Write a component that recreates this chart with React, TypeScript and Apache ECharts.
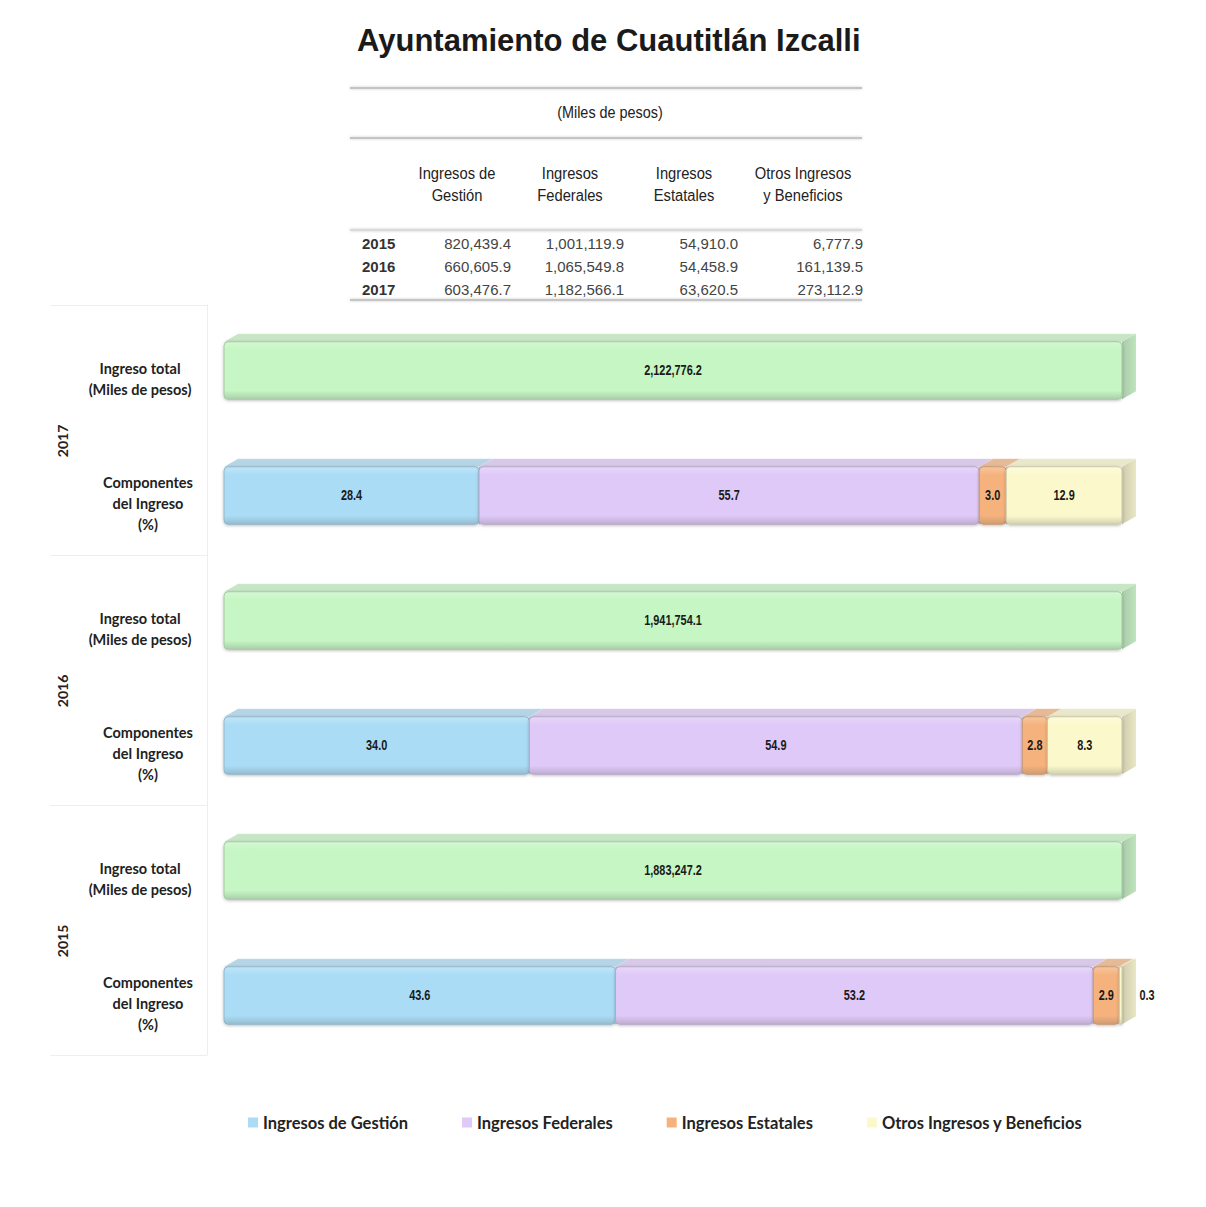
import React, { useEffect, useRef } from "react";
import * as echarts from "echarts";

// ---- Table data (Miles de pesos) ----
const tableYears = ["2015", "2016", "2017"];
const tabGestion = [820439.4, 660605.9, 603476.7];
const tabFederales = [1001119.9, 1065549.8, 1182566.1];
const tabEstatales = [54910.0, 54458.9, 63620.5];
const tabOtros = [6777.9, 161139.5, 273112.9];
const tableHeaders = [
  "Ingresos de\nGestión",
  "Ingresos\nFederales",
  "Ingresos\nEstatales",
  "Otros Ingresos\ny Beneficios",
];

// ---- Chart data ----
const chartYears = ["2017", "2016", "2015"];
const totals = [2122776.2, 1941754.1, 1883247.2];
const pctGestion = [28.4, 34.0, 43.6];
const pctFederales = [55.7, 54.9, 53.2];
const pctEstatales = [3.0, 2.8, 2.9];
const pctOtros = [12.9, 8.3, 0.3];
const componentNames = [
  "Ingresos de Gestión",
  "Ingresos Federales",
  "Ingresos Estatales",
  "Otros Ingresos y Beneficios",
];
const rowKeys = ["t2017", "c2017", "t2016", "c2016", "t2015", "c2015"];
const totalLabelLines = ["Ingreso total", "(Miles de pesos)"];
const compLabelLines = ["Componentes", "del Ingreso", "(%)"];

const colors = ["#aadcf6", "#dfc9f8", "#f5b27c", "#fbf9cc"];
const totalColor = "#c5f6c3";

function mix(hex: string, target: number, f: number) {
  const n = parseInt(hex.slice(1), 16);
  const r = (n >> 16) & 255, g = (n >> 8) & 255, b = n & 255;
  const m = (c: number) => Math.round(c + (target - c) * f);
  return `rgb(${m(r)},${m(g)},${m(b)})`;
}

const fmt = (v: number) =>
  v.toLocaleString("en-US", { minimumFractionDigits: 1, maximumFractionDigits: 1 });

function make3DRender(color: string) {
  return (params: any, api: any) => {
    const p0 = api.coord([api.value(0), api.value(2)]);
    const p1 = api.coord([api.value(1), api.value(2)]);
    const band = api.size([0, 1])[1];
    const h = band * 0.46;
    const dx = 14, dy = 8;
    const x0 = p0[0], x1 = p1[0];
    const yc = p0[1] + 3;
    const y0 = yc - h / 2, y1 = yc + h / 2;
    const w = Math.max(x1 - x0, 1);
    const val = api.value(3);
    const isTotal = api.value(4) === 1;
    const labelText = isTotal ? fmt(val) : val.toFixed(1);
    const small = !isTotal && val < 1;
    const children: any[] = [
      {
        type: "polygon",
        shape: { points: [[x0, y0], [x0 + dx, y0 - dy], [x1 + dx, y0 - dy], [x1, y0]] },
        style: { fill: mix(color, 200, 0.35), stroke: "rgba(255,255,255,0.4)", lineWidth: 0.5 },
      },
      {
        type: "polygon",
        shape: { points: [[x1, y0], [x1 + dx, y0 - dy], [x1 + dx, y1 - dy], [x1, y1]] },
        style: {
          fill: {
            type: "linear", x: 0, y: 0, x2: 1, y2: 0,
            colorStops: [
              { offset: 0, color: mix(color, 120, 0.35) },
              { offset: 1, color: mix(color, 160, 0.2) },
            ],
          },
        },
      },
      {
        type: "rect",
        shape: { x: x0, y: y0, width: w, height: h, r: 4 },
        style: {
          fill: {
            type: "linear", x: 0, y: 0, x2: 0, y2: 1,
            colorStops: [
              { offset: 0, color: mix(color, 255, 0.25) },
              { offset: 0.15, color: color },
              { offset: 0.85, color: color },
              { offset: 1, color: mix(color, 90, 0.25) },
            ],
          },
          stroke: mix(color, 90, 0.3),
          lineWidth: 1,
          shadowBlur: 3,
          shadowOffsetY: 1,
          shadowColor: "rgba(0,0,0,0.25)",
        },
      },
      {
        type: "text",
        x: small ? x1 + dx + 11 : (x0 + x1) / 2,
        y: yc,
        scaleX: 0.78,
        style: {
          text: labelText,
          x: 0,
          y: 0,
          align: "center",
          verticalAlign: "middle",
          fill: "#1a1a1a",
          fontSize: 14,
          fontWeight: "bold",
          fontFamily: "'Liberation Sans', Arial",
        },
        z2: 10,
      },
    ];
    return { type: "group", children };
  };
}

function buildComponentData(k: number) {
  const pcts = [pctGestion, pctFederales, pctEstatales, pctOtros];
  return chartYears.map((_, i) => {
    let start = 0;
    for (let j = 0; j < k; j++) start += pcts[j][i];
    return [start, start + pcts[k][i], 2 * i + 1, pcts[k][i], 0];
  });
}

function buildTotalData() {
  return chartYears.map((_, i) => [0, (totals[i] / totals[i]) * 100, 2 * i, totals[i], 1]);
}

function tableGraphics() {
  const els: any[] = [];
  const lineYs = [87, 137, 229, 299];
  lineYs.forEach((y, idx) => {
    els.push({
      type: "rect",
      shape: { x: 350, y: y, width: 512, height: 2 },
      style: {
        fill: idx === 2 ? "#dadada" : "#c4c4c4",
        shadowBlur: 3,
        shadowColor: "rgba(0,0,0,0.2)",
      },
      silent: true,
    });
  });
  els.push({
    type: "text",
    x: 610, y: 112,
    scaleX: 0.9,
    style: {
      text: "(Miles de pesos)", align: "center", verticalAlign: "middle",
      fontSize: 16, fontFamily: "'Liberation Sans', Arial",
      fill: "#222",
    },
  });
  const headerX = [457, 570, 684, 803];
  tableHeaders.forEach((h, i) => {
    els.push({
      type: "text",
      x: headerX[i], y: 184,
      scaleX: 0.92,
      style: {
        text: h, align: "center", verticalAlign: "middle", lineHeight: 22,
        fontSize: 16, fontFamily: "'Liberation Sans', Arial",
        fill: "#222",
      },
    });
  });
  const cols = [tabGestion, tabFederales, tabEstatales, tabOtros];
  const colRight = [511, 624, 738, 863];
  const rowY = [243, 266, 289];
  tableYears.forEach((yr, r) => {
    els.push({
      type: "text",
      x: 362, y: rowY[r],
      style: {
        text: yr, align: "left", verticalAlign: "middle", fontSize: 15,
        fontWeight: "bold", fontFamily: "'Liberation Sans', Arial", fill: "#333",
      },
    });
    cols.forEach((c, ci) => {
      els.push({
        type: "text",
        x: colRight[ci], y: rowY[r],
        style: {
          text: fmt(c[r]), align: "right", verticalAlign: "middle", fontSize: 15,
          fontFamily: "'Liberation Sans', Arial", fill: "#444",
        },
      });
    });
  });
  return els;
}

export default function App() {
  const ref = useRef<HTMLDivElement>(null);
  useEffect(() => {
    if (!ref.current) return;
    document.body.style.margin = "0";
    const chart = echarts.init(ref.current, undefined, { renderer: "svg" });
    const series: any[] = [
      {
        type: "custom",
        name: "Ingreso total",
        renderItem: make3DRender(totalColor),
        encode: { x: [0, 1], y: 2 },
        data: buildTotalData(),
        itemStyle: { color: totalColor },
      },
      ...componentNames.map((name, k) => ({
        type: "custom",
        name,
        renderItem: make3DRender(colors[k]),
        encode: { x: [0, 1], y: 2 },
        data: buildComponentData(k),
        itemStyle: { color: colors[k] },
      })),
    ];
    const labelRich = {
      t: {
        fontSize: 14.5, lineHeight: 21, fontWeight: "bold", fontFamily: "Lato", color: "#222",
      },
      c: {
        fontSize: 14.5, lineHeight: 21, fontWeight: "bold", fontFamily: "Lato", color: "#222",
        padding: [0, 0, 0, 16],
      },
    };
    chart.setOption({
      animation: false,
      backgroundColor: "#ffffff",
      title: {
        text: "Ayuntamiento de Cuautitlán Izcalli",
        left: 352,
        top: 20,
        textStyle: {
          fontSize: 31,
          fontWeight: "bold",
          fontFamily: "'Liberation Sans', Arial",
          color: "#1a1a1a",
        },
      },
      graphic: tableGraphics(),
      legend: {
        data: componentNames,
        left: 243,
        top: 1109,
        itemWidth: 10,
        itemHeight: 10,
        itemGap: 54,
        icon: "rect",
        textStyle: { fontSize: 16.5, fontFamily: "Lato", fontWeight: "bold", color: "#222" },
      },
      grid: { left: 224, right: 84, top: 305, bottom: 152 },
      xAxis: { type: "value", min: 0, max: 100, show: false },
      yAxis: [
        {
          type: "category",
          data: rowKeys,
          inverse: true,
          axisLine: { show: false },
          axisTick: { show: false },
          axisLabel: {
            margin: 84,
            align: "center",
            padding: [22, 0, 0, 0],
            formatter: (v: string) =>
              v[0] === "t"
                ? totalLabelLines.map((l) => `{t|${l}}`).join("\n")
                : compLabelLines.map((l) => `{c|${l}}`).join("\n"),
            rich: labelRich,
          },
        },
        {
          type: "category",
          data: chartYears,
          inverse: true,
          position: "left",
          offset: 17,
          axisLine: { show: true, lineStyle: { color: "#eeeeee" } },
          axisTick: { show: true, length: 157, lineStyle: { color: "#eeeeee" } },
          axisLabel: {
            rotate: 90,
            margin: 138,
            padding: [0, 22, 0, 0],
            fontSize: 14,
            fontWeight: "bold",
            fontFamily: "Lato",
            color: "#222",
          },
        },
      ],
      series,
    });
    return () => chart.dispose();
  }, []);
  return <div ref={ref} style={{ width: 1206, height: 1207 }} />;
}
